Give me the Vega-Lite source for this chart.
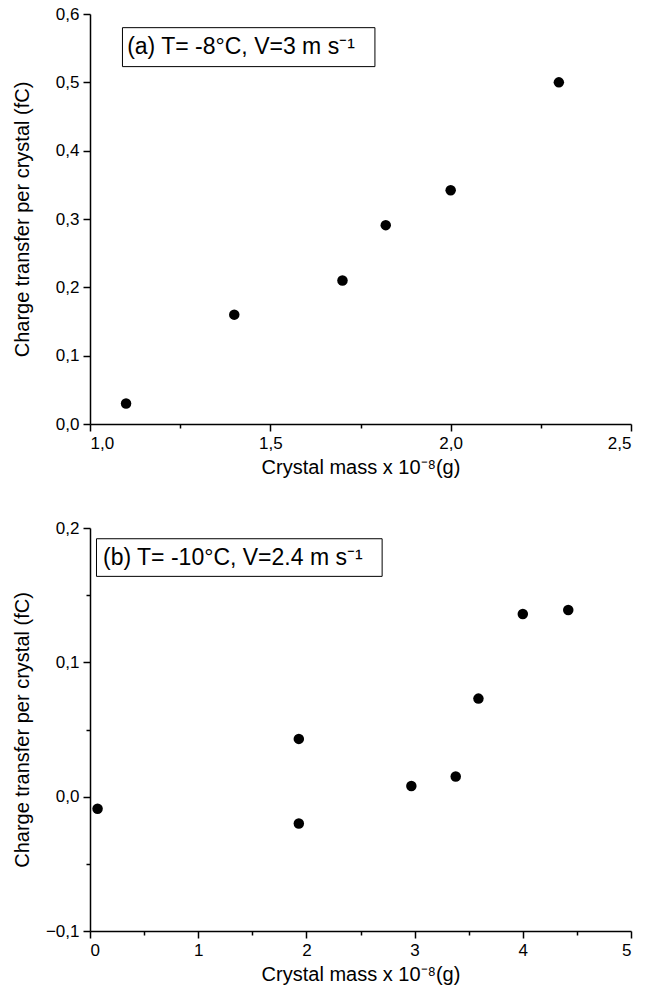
{
  "$schema": "https://vega.github.io/schema/vega-lite/v6.json",
  "padding": {"top": 5, "left": 12, "right": 10, "bottom": 5},
  "spacing": 104,
  "bounds": "flush",
  "config": {
    "view": {"stroke": null},
    "font": "Liberation Sans",
    "axis": {
      "grid": false,
      "domainColor": "black",
      "domainWidth": 1.5,
      "tickColor": "black",
      "tickWidth": 1.5,
      "labelColor": "black",
      "titleColor": "black",
      "labelFont": "Liberation Sans",
      "titleFont": "Liberation Sans",
      "labelFontSize": 17,
      "titleFontSize": 20,
      "titleFontWeight": "normal",
      "labelPadding": 4
    }
  },
  "datasets": {
    "a": [
      {"mass": 1.1, "charge": 0.03},
      {"mass": 1.4, "charge": 0.16},
      {"mass": 1.7, "charge": 0.21},
      {"mass": 1.82, "charge": 0.291},
      {"mass": 2.0, "charge": 0.342},
      {"mass": 2.3, "charge": 0.5}
    ],
    "b": [
      {"mass": 0.07, "charge": -0.009},
      {"mass": 1.93, "charge": 0.043},
      {"mass": 1.93, "charge": -0.02},
      {"mass": 2.97, "charge": 0.008},
      {"mass": 3.38, "charge": 0.015},
      {"mass": 3.59, "charge": 0.073},
      {"mass": 4.0, "charge": 0.136},
      {"mass": 4.42, "charge": 0.139}
    ],
    "boxa": [{"x1": 1.09, "x2": 1.79, "y1": 0.523, "y2": 0.58, "tx": 1.103, "ty": 0.5515, "label": "(a) T= -8°C, V=3 m s⁻¹"}],
    "boxb": [{"x1": 0.06, "x2": 2.7, "y1": 0.164, "y2": 0.192, "tx": 0.12, "ty": 0.178, "label": "(b) T= -10°C, V=2.4 m s⁻¹"}]
  },
  "vconcat": [
    {
      "width": 541,
      "height": 410,
      "layer": [
        {
          "data": {"name": "a"},
          "mark": {"type": "point", "filled": true, "color": "black", "opacity": 1, "size": 110},
          "encoding": {
            "x": {
              "field": "mass", "type": "quantitative",
              "scale": {"domain": [1.0, 2.5], "nice": false, "zero": false},
              "axis": {
                "title": "Crystal mass x 10⁻⁸(g)",
                "values": [1.0, 1.25, 1.5, 1.75, 2.0, 2.25, 2.5],
                "labelExpr": "(round(datum.value*100) % 50 == 0) ? replace(format(datum.value, '.1f'), '.', ',') : ''",
                "tickSize": {"condition": {"test": "round(datum.value*100) % 50 != 0", "value": 4}, "value": 7},
                "titlePadding": 6
              }
            },
            "y": {
              "field": "charge", "type": "quantitative",
              "scale": {"domain": [0, 0.6], "nice": false},
              "axis": {
                "title": "Charge transfer per crystal (fC)",
                "titleX": -58,
                "values": [0, 0.05, 0.1, 0.15, 0.2, 0.25, 0.3, 0.35, 0.4, 0.45, 0.5, 0.55, 0.6],
                "labelExpr": "(round(datum.value*100) % 10 == 0) ? replace(format(datum.value, '.1f'), '.', ',') : ''",
                "tickSize": {"condition": {"test": "round(datum.value*100) % 10 != 0", "value": 4}, "value": 7}
              }
            }
          }
        },
        {
          "data": {"name": "boxa"},
          "mark": {"type": "rect", "fill": "white", "stroke": "black", "strokeWidth": 1},
          "encoding": {
            "x": {"field": "x1", "type": "quantitative"},
            "x2": {"field": "x2"},
            "y": {"field": "y1", "type": "quantitative"},
            "y2": {"field": "y2"}
          }
        },
        {
          "data": {"name": "boxa"},
          "mark": {"type": "text", "align": "left", "baseline": "middle", "fontSize": 23, "color": "black", "font": "Liberation Sans"},
          "encoding": {
            "x": {"field": "tx", "type": "quantitative"},
            "y": {"field": "ty", "type": "quantitative"},
            "text": {"field": "label"}
          }
        }
      ]
    },
    {
      "width": 541,
      "height": 403,
      "layer": [
        {
          "data": {"name": "b"},
          "mark": {"type": "point", "filled": true, "color": "black", "opacity": 1, "size": 110},
          "encoding": {
            "x": {
              "field": "mass", "type": "quantitative",
              "scale": {"domain": [0, 5], "nice": false},
              "axis": {
                "title": "Crystal mass x 10⁻⁸(g)",
                "values": [0, 0.5, 1, 1.5, 2, 2.5, 3, 3.5, 4, 4.5, 5],
                "labelExpr": "(round(datum.value*10) % 10 == 0) ? format(datum.value, 'd') : ''",
                "tickSize": {"condition": {"test": "round(datum.value*10) % 10 != 0", "value": 4}, "value": 7},
                "titlePadding": 6
              }
            },
            "y": {
              "field": "charge", "type": "quantitative",
              "scale": {"domain": [-0.1, 0.2], "nice": false, "zero": false},
              "axis": {
                "title": "Charge transfer per crystal (fC)",
                "titleX": -58,
                "values": [-0.1, -0.05, 0, 0.05, 0.1, 0.15, 0.2],
                "labelExpr": "(round(abs(datum.value)*100) % 10 == 0) ? replace(format(datum.value, '.1f'), '.', ',') : ''",
                "tickSize": {"condition": {"test": "round(abs(datum.value)*100) % 10 != 0", "value": 4}, "value": 7}
              }
            }
          }
        },
        {
          "data": {"name": "boxb"},
          "mark": {"type": "rect", "fill": "white", "stroke": "black", "strokeWidth": 1},
          "encoding": {
            "x": {"field": "x1", "type": "quantitative"},
            "x2": {"field": "x2"},
            "y": {"field": "y1", "type": "quantitative"},
            "y2": {"field": "y2"}
          }
        },
        {
          "data": {"name": "boxb"},
          "mark": {"type": "text", "align": "left", "baseline": "middle", "fontSize": 23, "color": "black", "font": "Liberation Sans"},
          "encoding": {
            "x": {"field": "tx", "type": "quantitative"},
            "y": {"field": "ty", "type": "quantitative"},
            "text": {"field": "label"}
          }
        }
      ]
    }
  ]
}
